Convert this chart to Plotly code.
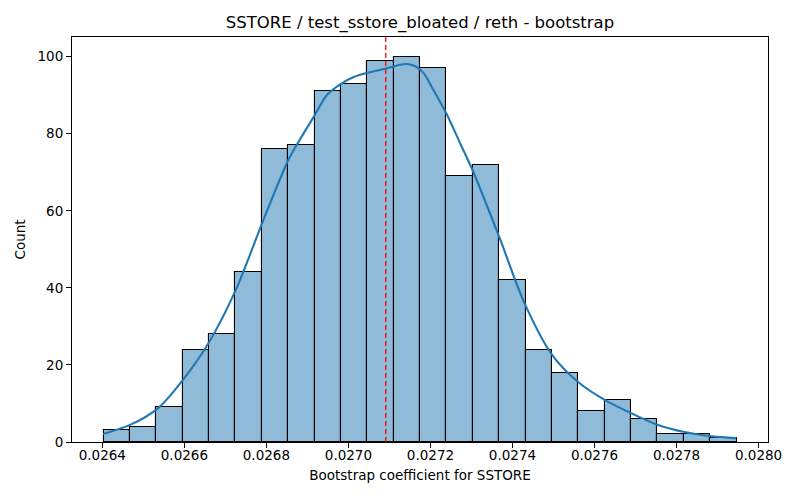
import plotly.graph_objects as go

# Histogram of bootstrap coefficients (seaborn histplot + kde look)
bin_start = 0.026403
bin_width = 0.0000643
counts = [3, 4, 9, 24, 28, 44, 76, 77, 91, 93, 99, 100, 97, 69, 72, 42, 24, 18, 8, 11, 6, 2, 2, 1]

kde_x = [0.026402, 0.026469, 0.026536, 0.026597, 0.026659, 0.026726, 0.026793, 0.026854,
         0.026884, 0.026916, 0.026948, 0.026981, 0.027013, 0.027046, 0.027092, 0.027126,
         0.027143, 0.027163, 0.027183, 0.027207, 0.027240, 0.027272, 0.027304, 0.027367,
         0.027429, 0.027496, 0.027563, 0.027630, 0.027697, 0.027753, 0.027819, 0.027886, 0.027945]
kde_y = [2.1, 4.5, 8.8, 16.2, 25.7, 39.6, 57.7, 73.3,
         78.9, 84.5, 90.1, 92.9, 94.7, 95.8, 96.9, 97.9,
         98.1, 97.5, 95.8, 91.4, 85.0, 77.6, 70.2, 53.4,
         36.1, 22.7, 15.3, 10.6, 7.1, 4.5, 2.6, 1.5, 1.0]

mean_value = 0.027091

x_ticks = [0.0264, 0.0266, 0.0268, 0.0270, 0.0272, 0.0274, 0.0276, 0.0278, 0.0280]
y_ticks = [0, 20, 40, 60, 80, 100]

bin_left = [bin_start + i * bin_width for i in range(len(counts))]

fig = go.Figure()
fig.add_trace(go.Bar(
    x=bin_left, y=counts, width=bin_width, offset=0,
    marker=dict(color="rgba(31,119,180,0.5)", line=dict(color="black", width=1.1)),
    showlegend=False,
))
fig.add_trace(go.Scatter(
    x=kde_x, y=kde_y, mode="lines",
    line=dict(color="#1f77b4", width=2.1, shape="spline", smoothing=0.8),
    showlegend=False,
))
# gestrichelte Linie beim Mittelwert
fig.add_shape(type="line", x0=mean_value, x1=mean_value, y0=0, y1=1,
              xref="x", yref="paper", line=dict(color="#ff0000", width=1.3, dash="5px,3px"))

axis_style = dict(
    showline=True, linecolor="black", linewidth=1.1, mirror=True,
    ticks="outside", ticklen=5, tickwidth=1.1, tickcolor="black",
    showgrid=False, zeroline=False, automargin=False,
    tickfont=dict(family="DejaVu Sans", size=13.5, color="black"),
)

# Seite hat 8px body-margin -> Ränder entsprechend verschoben
fig.update_layout(
    width=800, height=500,
    margin=dict(l=64, r=40, t=29, b=66),
    plot_bgcolor="white", paper_bgcolor="white",
    bargap=0,
    title=dict(text="SSTORE / test_sstore_bloated / reth - bootstrap",
               x=0.515, xanchor="center", y=0.972, yanchor="middle",
               font=dict(family="DejaVu Sans", size=16.5, color="black")),
    xaxis=dict(range=[0.026326, 0.028023], tickvals=x_ticks, tickformat=".4f",
               ticklabelstandoff=-4,
               title=dict(text="Bootstrap coefficient for SSTORE", standoff=8,
                          font=dict(family="DejaVu Sans", size=13.5, color="black")),
               **axis_style),
    yaxis=dict(range=[0, 105.1], tickvals=y_ticks,
               title=dict(text="Count", standoff=8,
                          font=dict(family="DejaVu Sans", size=13.5, color="black")),
               **axis_style),
)

fig.write_html("out.html")
